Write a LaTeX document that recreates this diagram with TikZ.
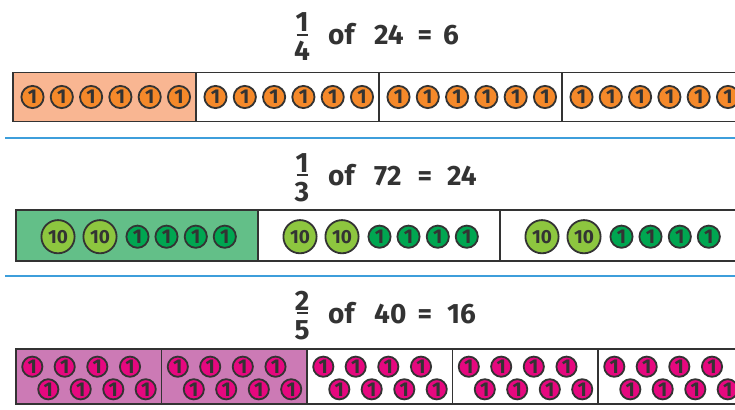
\documentclass[tikz,border=0pt]{standalone}
\usepackage{fontspec}
\setmainfont{Fira Sans}
\definecolor{ink}{HTML}{333333}
\definecolor{sepc}{HTML}{3D9EDB}
\definecolor{orfill}{HTML}{F9B692}
\definecolor{orcoin}{HTML}{F5892A}
\definecolor{grfill}{HTML}{63BF88}
\definecolor{grten}{HTML}{8DC63F}
\definecolor{grone}{HTML}{00A651}
\definecolor{pkfill}{HTML}{CC7AB5}
\definecolor{pkcoin}{HTML}{E6087F}
\newcommand\coinfont{\fontsize{20}{20}\selectfont\bfseries}
\newcommand\tenfont{\fontsize{19}{19}\selectfont\bfseries}
\begin{document}
\begin{tikzpicture}[x=1pt,y=-1pt,
  sect/.style={draw=ink,line width=1.8pt},
  coin/.style={circle,draw=ink,line width=1.8pt,inner sep=0pt,text=ink,font=\coinfont},
  onecoin/.style={coin,minimum size=22.2pt},
  tencoin/.style={coin,minimum size=33.2pt,font=\tenfont},
  smallcoin/.style={coin,minimum size=20.2pt},
  ttl/.style={inner sep=0pt,text=ink,font=\fontsize{28}{28}\selectfont\bfseries},
  sepline/.style={draw=sepc,line width=1.5pt}]
\clip (0,0) rectangle (735,409);
\fill[white] (0,0) rectangle (735,409);
% titles
\foreach \ly/\nu/\de/\nb/\rs/\rx [count=\r] in {35/1/4/24/6/443, 175/1/3/72/24/447, 313/2/5/40/16/447}{
  \node[ttl,anchor=base] (num\r) at (302,\ly-3) {\nu};
  \node[ttl,anchor=base] (den\r) at (302,\ly+26) {\de};
  \draw[ink,line width=2pt] (296.5,\ly) -- (307.5,\ly);
  \node[ttl,anchor=base west] (of\r) at (328,\ly+10) {of};
  \node[ttl,anchor=base west] (nb\r) at (374,\ly+10) {\nb};
  \node[ttl,anchor=base] (eq\r) at (425,\ly+10) {=};
  \node[ttl,anchor=base west] (rs\r) at (\rx,\ly+10) {\rs};
}
% separators
\draw[sepline] (5,138) -- (735,138);
\draw[sepline] (5,276) -- (735,276);
% row 1
\fill[orfill] (13,72.5) rectangle (196,121.5);
\foreach \k in {0,...,3}{
  \draw[sect] ({13+183*\k},72.5) rectangle ({196+183*\k},121.5);
  \foreach \i in {0,...,5}
    \node[onecoin,fill=orcoin] (a\k\i) at ({32.5+183*\k+29.3*\i},97) {1};
}
% row 2
\fill[grfill] (16,210) rectangle (258,261);
\foreach \k in {0,...,2}{
  \draw[sect] ({16+242*\k},210) rectangle ({258+242*\k},261);
  \node[tencoin,fill=grten] (t\k0) at ({58+242*\k},236.7) {10};
  \node[tencoin,fill=grten] (t\k1) at ({100+242*\k},236.7) {10};
  \foreach \o [count=\i] in {121.5,150.5,179.8,208.8}
    \node[onecoin,fill=grone] (b\k\i) at ({16+\o+242*\k},236.7) {1};
}
% row 3
\fill[pkfill] (16,349) rectangle (307,404);
\foreach \k in {0,...,4}{
  \draw[sect] ({16+145.5*\k},349) rectangle ({161.5+145.5*\k},404);
  \foreach \o [count=\i] in {16.3,48.7,81.3,114}
    \node[smallcoin,fill=pkcoin] (p\k u\i) at ({16+\o+145.5*\k},366.7) {1};
  \foreach \o [count=\i] in {32.3,64.7,97.3,129.7}
    \node[smallcoin,fill=pkcoin] (p\k d\i) at ({16+\o+145.5*\k},389.3) {1};
}
\end{tikzpicture}
\end{document}
